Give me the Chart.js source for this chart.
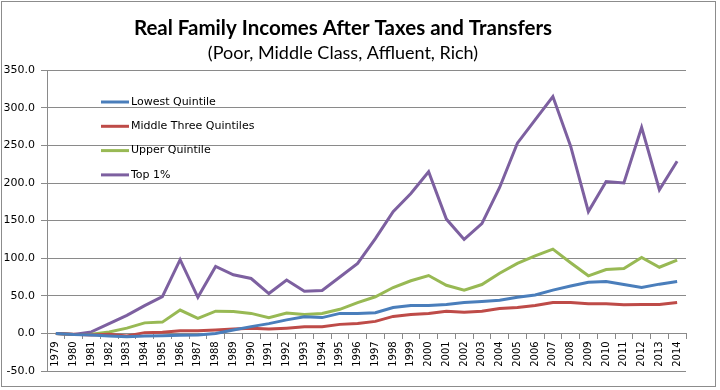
<!DOCTYPE html>
<html>
<head>
<meta charset="utf-8">
<script src="https://cdn.jsdelivr.net/npm/chart.js@4.4.0/dist/chart.umd.min.js"></script>
<style>
  html, body { margin: 0; padding: 0; background: #fff; }
  #wrap { width: 720px; height: 390px; position: relative; }
</style>
</head>
<body>
<div id="wrap"><canvas id="chart" width="720" height="390"></canvas></div>
<script>
// 年
var years = [];
for (var y = 1979; y <= 2014; y++) years.push(String(y));

// 系列データ
var lowest = [0, -1.5, -2, -3.5, -4.5, -3.5, -3, -2.5, -2, 0, 4.4, 9, 13, 18, 22, 21, 26.6, 26.6,
  27.4, 34.5, 37, 37, 38.5, 41, 42.5, 44, 48, 51, 57.6, 63, 68, 69, 65, 61, 65.5, 69];
var middle = [0, -1, -2, -1, -3.5, 1, 1.5, 3.5, 3.5, 4.4, 5.7, 7, 5.7, 7, 8.8, 8.8, 12, 13.3,
  16, 22.6, 25, 26.6, 29.6, 28, 29.6, 33, 34.5, 37, 41, 41, 39.4, 39.4, 38, 38.5, 38.5, 41];
var upper = [0, -1.5, -1, 2, 7, 14, 15, 31, 20, 29.6, 29, 26.6, 21, 27, 25, 26.6, 32, 41,
  48.7, 61, 70, 77, 64, 57.6, 65, 80, 93, 103, 112, 94, 76.6, 85, 86.4, 101, 88, 97.5];
var top1 = [0, -1.5, 2, 13, 24, 37, 49, 98, 48, 89, 78, 73, 53, 71, 56, 57, 75, 93,
  126, 162, 186, 215, 152, 125, 146, 194, 253, 284, 315, 249, 162, 202, 200, 274, 191, 229];

var seriesNames = ['Lowest Quintile', 'Middle Three Quintiles', 'Upper Quintile', 'Top 1%'];
var seriesColors = ['#4A7EBB', '#BE4B48', '#98B954', '#7D60A0'];
var yTicks = [-50, 0, 50, 100, 150, 200, 250, 300, 350];

var gridColor = '#8a8a8a';

// 枠線と白背景
var framePlugin = {
  id: 'frame',
  beforeDraw: function (chart) {
    var c = chart.ctx;
    c.save();
    c.fillStyle = '#fff';
    c.fillRect(0, 0, chart.width, chart.height);
    c.strokeStyle = '#8c8c8c';
    c.lineWidth = 1;
    c.strokeRect(1.5, 1.5, 714, 385);
    c.restore();
  }
};

// 凡例（グラフ内に描く）
var innerLegend = {
  id: 'innerLegend',
  afterDatasetsDraw: function (chart) {
    var c = chart.ctx;
    c.save();
    c.font = '11px "DejaVu Sans"';
    c.textBaseline = 'middle';
    chart.data.datasets.forEach(function (ds, i) {
      var yy = 102 + i * 24.3;
      c.strokeStyle = ds.borderColor;
      c.lineWidth = 3;
      c.beginPath();
      c.moveTo(101, yy);
      c.lineTo(129, yy);
      c.stroke();
      c.fillStyle = '#000';
      c.fillText(ds.label, 131, yy);
    });
    c.restore();
  }
};

var ctx = document.getElementById('chart').getContext('2d');
new Chart(ctx, {
  type: 'line',
  data: {
    labels: years,
    datasets: [lowest, middle, upper, top1].map(function (d, i) {
      return {
        label: seriesNames[i],
        data: d,
        borderColor: seriesColors[i],
        backgroundColor: seriesColors[i],
        borderWidth: 3,
        pointRadius: 0,
        tension: 0,
        fill: false
      };
    })
  },
  options: {
    responsive: false,
    animation: false,
    layout: { padding: { left: 0, right: 34, top: 0, bottom: 19 } },
    plugins: {
      legend: { display: false },
      tooltip: { enabled: false },
      title: {
        display: true,
        text: 'Real Family Incomes After Taxes and Transfers',
        color: '#000',
        font: { family: 'Lato', size: 20.5, weight: 'bold' },
        padding: { top: 16, bottom: 2 }
      },
      subtitle: {
        display: true,
        text: '(Poor, Middle Class, Affluent, Rich)',
        color: '#000',
        font: { family: 'Lato', size: 18, weight: 'normal' },
        padding: { top: 0, bottom: 6 }
      }
    },
    scales: {
      y: {
        min: -50,
        max: 350,
        afterBuildTicks: function (s) { s.ticks = yTicks.map(function (v) { return { value: v }; }); },
        afterFit: function (s) { s.width = 47; },
        border: { color: gridColor, width: 1 },
        grid: { color: gridColor, lineWidth: 1, tickLength: 6, drawTicks: true },
        ticks: {
          color: '#000',
          padding: 6,
          font: { family: 'DejaVu Sans', size: 11 },
          callback: function (v) { return Number(v).toFixed(1); }
        }
      },
      x: {
        position: { y: 0 },
        offset: true,
        border: { color: gridColor, width: 1 },
        grid: { offset: true, drawOnChartArea: false, drawTicks: true, tickLength: 5, color: gridColor },
        ticks: {
          color: '#000',
          minRotation: 90,
          maxRotation: 90,
          autoSkip: false,
          padding: 3,
          font: { family: 'DejaVu Sans', size: 10 }
        }
      }
    }
  },
  plugins: [framePlugin, innerLegend]
});
</script>
</body>
</html>
